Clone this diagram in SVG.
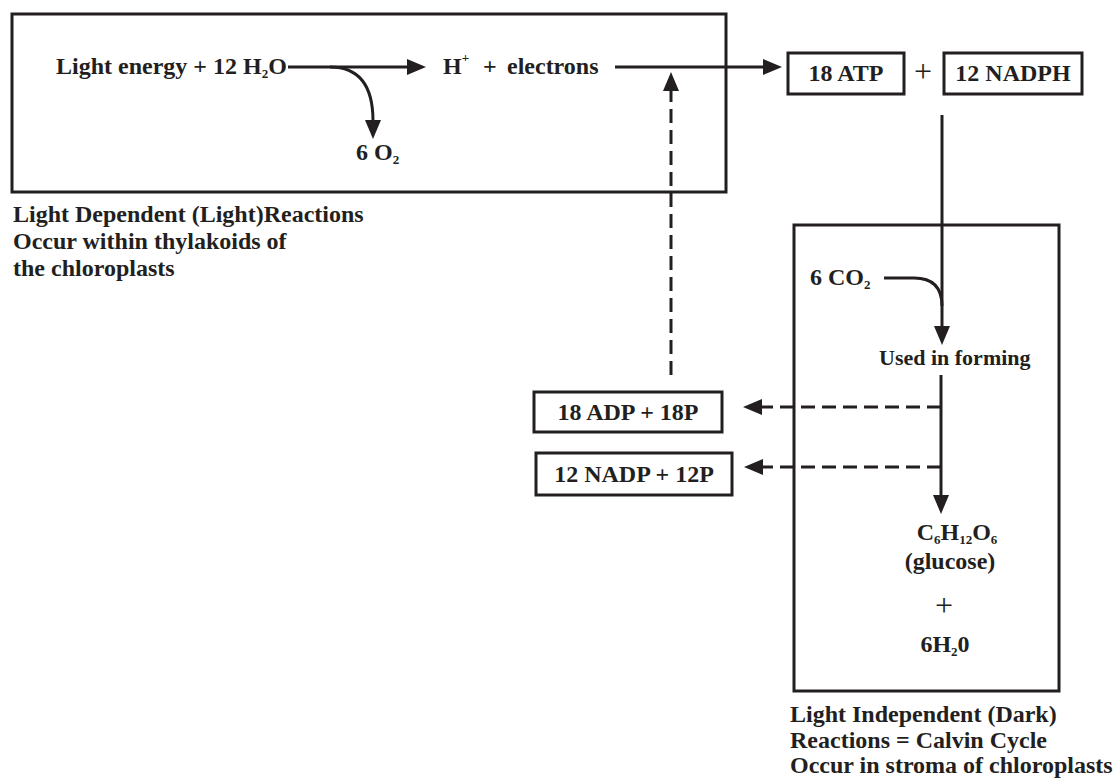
<svg xmlns="http://www.w3.org/2000/svg" width="1119" height="779" viewBox="0 0 1119 779">
<defs>
<marker id="ah" markerUnits="userSpaceOnUse" markerWidth="20" markerHeight="16" refX="1" refY="8" orient="auto">
<path d="M0,0 L19,8 L0,16 z" fill="#231f20"/>
</marker>
<style>
text{font-family:"Liberation Serif","Times New Roman",serif;font-weight:bold;font-size:24px;fill:#231f20}
.c{text-anchor:middle}
.plus{font-weight:normal;font-size:32px}
.sub{font-size:13px}
.box{fill:none;stroke:#231f20;stroke-width:3}
.ln{fill:none;stroke:#231f20;stroke-width:3}
.ar{marker-end:url(#ah)}
.dash{stroke-dasharray:14 7}
</style>
</defs>
<rect width="1119" height="779" fill="#fff"/>
<g id="light-reactions">
<rect class="box" x="12" y="14" width="714" height="178"/>
<text x="56" y="74">Light energy + 12 H<tspan class="sub" dy="4">2</tspan><tspan dy="-4">O</tspan></text>
<text x="443" y="74">H<tspan class="sub" dy="-12">+</tspan></text>
<text x="483" y="74">+</text>
<text x="507" y="74">electrons</text>
<text x="356" y="160">6 O<tspan class="sub" dy="4">2</tspan></text>
</g>
<g id="label-light">
<text x="13" y="222">Light Dependent (Light)Reactions</text>
<text x="13" y="249">Occur within thylakoids of</text>
<text x="13" y="276">the chloroplasts</text>
</g>
<g id="atp">
<rect class="box" x="788" y="53" width="116" height="41"/>
<text class="c" x="846" y="81">18 ATP</text>
</g>
<text class="plus c" x="923" y="82">+</text>
<g id="nadph">
<rect class="box" x="944" y="53" width="138" height="41"/>
<text class="c" x="1013" y="81">12 NADPH</text>
</g>
<g id="dark-reactions">
<rect class="box" x="794" y="225" width="265" height="466"/>
<text x="810" y="285">6 CO<tspan class="sub" dy="4">2</tspan></text>
<text x="879" y="365" style="font-size:22px">Used in forming</text>
<text class="c" x="957" y="540">C<tspan class="sub" dy="4">6</tspan><tspan dy="-4">H</tspan><tspan class="sub" dy="4">12</tspan><tspan dy="-4">O</tspan><tspan class="sub" dy="4">6</tspan></text>
<text class="c" x="950" y="569">(glucose)</text>
<text class="plus c" x="944" y="616">+</text>
<text class="c" x="945" y="652">6H<tspan class="sub" dy="4">2</tspan><tspan dy="-4">0</tspan></text>
</g>
<g id="label-dark">
<text x="790" y="722">Light Independent (Dark)</text>
<text x="790" y="748">Reactions = Calvin Cycle</text>
<text x="790" y="773">Occur in stroma of chloroplasts</text>
</g>
<g id="adp">
<rect class="box" x="534" y="392" width="188" height="40"/>
<text class="c" x="628" y="420">18 ADP + 18P</text>
</g>
<g id="nadp">
<rect class="box" x="536" y="453" width="196" height="42"/>
<text class="c" x="634" y="482">12 NADP + 12P</text>
</g>
<g id="connectors">
<path class="ln ar" d="M288,67 H408"/>
<path class="ln ar" d="M330,67 Q373,67 373,121"/>
<path class="ln ar" d="M615,67 H764"/>
<path class="ln ar dash" d="M671,375 V90"/>
<path class="ln ar" d="M942,115 V327"/>
<path class="ln" d="M884,278 H914 Q942,278 942,306"/>
<path class="ln ar" d="M941,375 V496"/>
<path class="ln ar dash" d="M941,407 H761"/>
<path class="ln ar dash" d="M941,467 H762"/>
</g>
</svg>
